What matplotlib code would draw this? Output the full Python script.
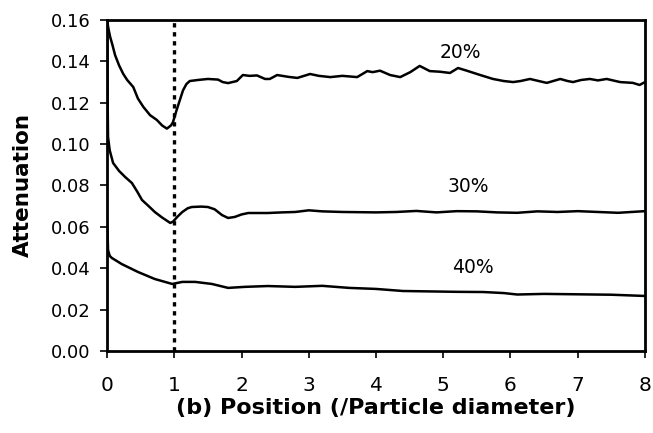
import matplotlib
matplotlib.use("Agg")
import matplotlib.pyplot as plt

plt.rcParams['font.family'] = ['DejaVu Sans']
plt.rcParams['xtick.major.pad'] = 13
plt.rcParams['ytick.major.pad'] = 7
plt.rcParams['xtick.labelsize'] = 14.5
plt.rcParams['ytick.labelsize'] = 13
plt.rcParams['xtick.major.size'] = 5
plt.rcParams['ytick.major.size'] = 5
plt.rcParams['xtick.major.width'] = 1.2
plt.rcParams['ytick.major.width'] = 1.2

# valores (posicion en diametros de particula, atenuacion)
x20 = [0.0, 0.02, 0.045, 0.08, 0.12, 0.18, 0.24, 0.30, 0.39, 0.46, 0.54, 0.64,
       0.74, 0.82, 0.89, 0.95, 0.98, 1.03, 1.08, 1.13, 1.18, 1.23, 1.35, 1.50,
       1.65, 1.72, 1.80, 1.93, 2.02, 2.12, 2.23, 2.35, 2.42, 2.53, 2.70, 2.83,
       3.02, 3.15, 3.32, 3.50, 3.72, 3.87, 3.95, 4.06, 4.21, 4.36, 4.51, 4.65,
       4.80, 4.95, 5.10, 5.22, 5.35, 5.55, 5.74, 5.90, 6.04, 6.15, 6.29, 6.42,
       6.54, 6.74, 6.85, 6.93, 7.05, 7.18, 7.30, 7.43, 7.63, 7.82, 7.92, 8.0]
y20 = [0.160, 0.156, 0.152, 0.148, 0.143, 0.138, 0.134, 0.131, 0.1276, 0.122,
       0.118, 0.114, 0.1117, 0.109, 0.1075, 0.109, 0.1105, 0.116, 0.121, 0.126,
       0.129, 0.1305, 0.131, 0.1315, 0.1312, 0.130, 0.1295, 0.1305, 0.1334,
       0.1330, 0.1332, 0.1315, 0.1315, 0.1334, 0.1325, 0.132, 0.1339, 0.1330,
       0.1324, 0.1330, 0.1324, 0.1353, 0.1348, 0.1355, 0.1334, 0.1324, 0.1348,
       0.1378, 0.1353, 0.1350, 0.1344, 0.1368, 0.1355, 0.1334, 0.1315, 0.1305,
       0.1300, 0.1305, 0.1315, 0.1305, 0.1296, 0.1315, 0.1305, 0.1300, 0.1310,
       0.1315, 0.1308, 0.1315, 0.1300, 0.1296, 0.1286, 0.1300]

x30 = [0.0, 0.005, 0.01, 0.015, 0.04, 0.09, 0.18, 0.27, 0.37, 0.45, 0.52, 0.62,
       0.71, 0.82, 0.94, 0.98, 1.05, 1.12, 1.20, 1.26, 1.40, 1.50, 1.60, 1.71,
       1.80, 1.90, 2.0, 2.10, 2.39, 2.60, 2.80, 3.0, 3.2, 3.5, 4.0, 4.3, 4.6,
       4.9, 5.2, 5.5, 5.8, 6.1, 6.4, 6.7, 7.0, 7.3, 7.6, 7.8, 8.0]
y30 = [0.160, 0.140, 0.118, 0.1034, 0.097, 0.0909, 0.087, 0.0841, 0.0812, 0.077,
       0.073, 0.070, 0.0672, 0.0645, 0.0619, 0.0625, 0.0650, 0.0672, 0.0690,
       0.0696, 0.0698, 0.0696, 0.0685, 0.0657, 0.0643, 0.0648, 0.0660, 0.0667,
       0.0667, 0.0670, 0.0672, 0.0680, 0.0675, 0.0672, 0.0670, 0.0672, 0.0677,
       0.0670, 0.0676, 0.0675, 0.0670, 0.0668, 0.0675, 0.0672, 0.0676, 0.0672,
       0.0668, 0.0672, 0.0676]

x40 = [0.0, 0.01, 0.015, 0.04, 0.07, 0.22, 0.46, 0.71, 0.97, 1.12, 1.31, 1.56,
       1.80, 2.05, 2.39, 2.80, 3.20, 3.60, 4.0, 4.4, 4.8, 5.2, 5.6, 5.9, 6.1,
       6.5, 7.0, 7.5, 8.0]
y40 = [0.063, 0.055, 0.0488, 0.046, 0.045, 0.042, 0.0382, 0.0348, 0.0324,
       0.0334, 0.0334, 0.0324, 0.0305, 0.0310, 0.0314, 0.0310, 0.0315, 0.0305,
       0.0300, 0.0290, 0.0288, 0.0286, 0.0285, 0.0280, 0.0273, 0.0276, 0.0274,
       0.0272, 0.0266]

etiquetas = ["20%", "30%", "40%"]
pos_etiquetas = [(5.25, 0.1445), (5.37, 0.0793), (5.44, 0.0406)]

fig = plt.figure(figsize=(6.53, 4.33), dpi=100)
ax = fig.add_axes([0.1639, 0.1894, 0.8238, 0.7644])

ax.plot(x20, y20, color="black", linewidth=1.8)
ax.plot(x30, y30, color="black", linewidth=1.8)
ax.plot(x40, y40, color="black", linewidth=1.8)
ax.axvline(1, color="black", linewidth=2.4, linestyle=(0, (1.3, 1.4)))

for txt, (px, py) in zip(etiquetas, pos_etiquetas):
    ax.text(px, py, txt, fontsize=13.5, ha="center", va="center")

ax.set_xlim(0, 8)
ax.set_ylim(0, 0.16)
ax.set_xticks(range(0, 9))
ax.set_yticks([i * 0.02 for i in range(9)])
ax.set_yticklabels([f"{i * 0.02:.2f}" for i in range(9)])
for s in ax.spines.values():
    s.set_linewidth(2.0)

ax.set_ylabel("Attenuation", fontsize=15.5, fontweight="bold", labelpad=13)
ax.set_xlabel("(b) Position (/Particle diameter)", fontsize=16,
              fontweight="bold", labelpad=2)

fig.savefig("out.png", dpi=100)
